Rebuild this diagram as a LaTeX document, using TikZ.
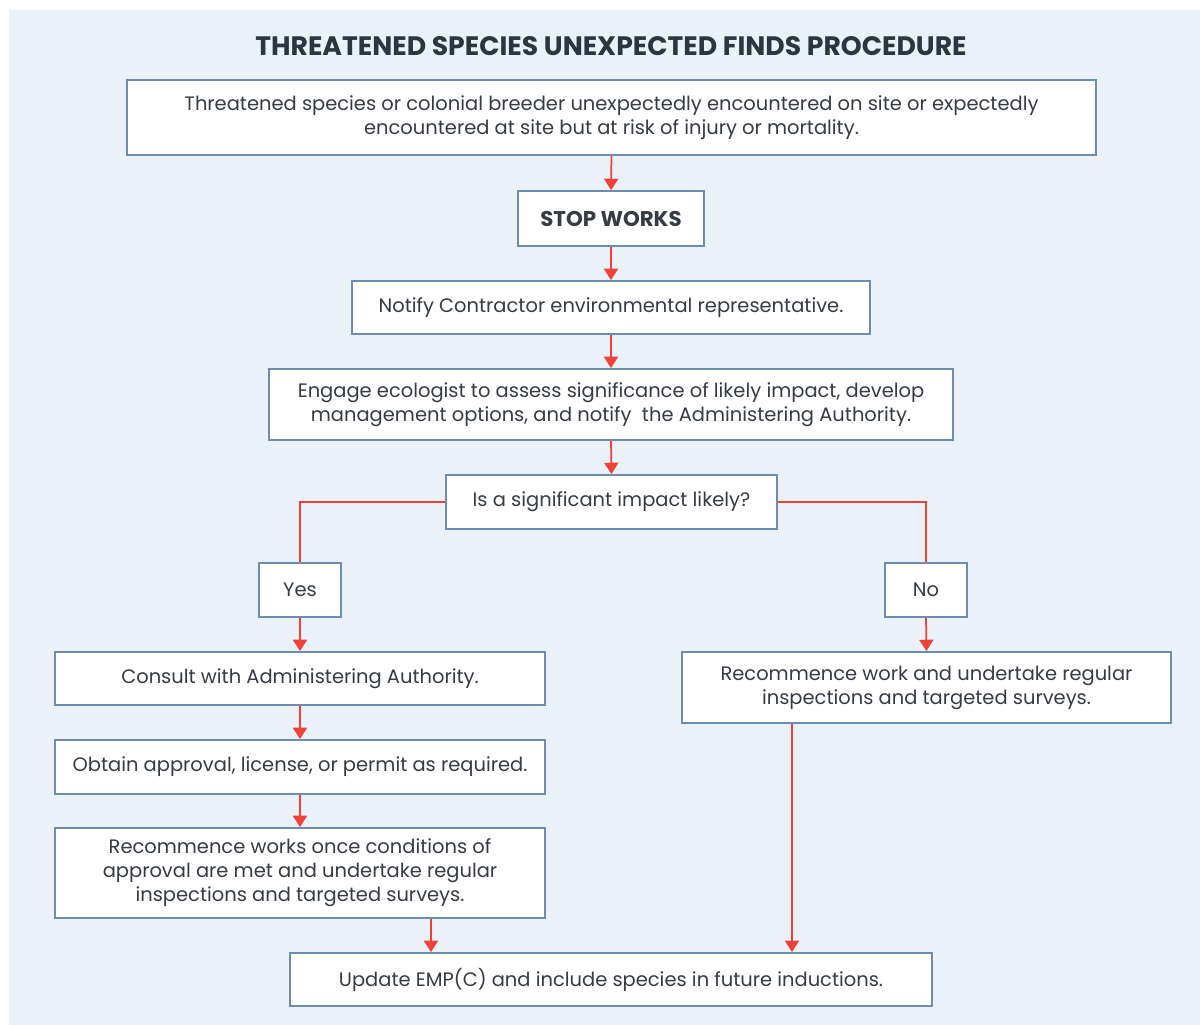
\documentclass[tikz,border=0pt]{standalone}
\usepackage{fontspec}
\setmainfont{Poppins}
\usetikzlibrary{arrows.meta}
\definecolor{bgblue}{HTML}{EAF1F8}
\definecolor{boxline}{HTML}{6E8DAD}
\definecolor{arrred}{HTML}{EF4138}
\definecolor{txt}{HTML}{363C42}
\definecolor{titlec}{HTML}{2B3640}
\begin{document}
\begin{tikzpicture}[x=0.75pt,y=-0.75pt,
  bx/.style n args={2}{draw=boxline, line width=1.4pt, fill=white, text=txt,
    minimum width=#1*0.75pt, minimum height=#2*0.75pt, inner sep=0pt,
    align=center, font=\fontsize{14.6}{18}\selectfont},
  arr/.style={draw=arrred, line width=1.3pt, -{Triangle[width=10.5pt,length=8.5pt]}},
  lin/.style={draw=arrred, line width=1.3pt}]
\useasboundingbox (0,0) rectangle (1200,1025);
\fill[bgblue] (9,10) rectangle (1200,1025);
\node[text=titlec, font=\fontsize{20}{22}\selectfont\bfseries] (title) at (611,46) {THREATENED SPECIES UNEXPECTED FINDS PROCEDURE};
\node[bx={969}{75}] (top) at (611.5,117.5) {Threatened species or colonial breeder unexpectedly encountered on site or expectedly\\encountered at site but at risk of injury or mortality.};
\node[bx={186}{55}, font=\fontsize{16}{18}\selectfont\bfseries] (stop) at (611,218.5) {STOP WORKS};
\node[bx={518}{53}] (notify) at (611,307.5) {Notify Contractor environmental representative.};
\node[bx={684}{71}] (engage) at (611,404.5) {Engage ecologist to assess significance of likely impact, develop\\management options, and notify\ \ the Administering Authority.};
\node[bx={331}{54}] (sig) at (611.5,502) {Is a significant impact likely?};
\node[bx={82}{54}] (yes) at (300,590) {Yes};
\node[bx={82}{54}] (no) at (926,590) {No};
\node[bx={490}{53}] (consult) at (300,678.5) {Consult with Administering Authority.};
\node[bx={490}{54}] (obtain) at (300,767) {Obtain approval, license, or permit as required.};
\node[bx={490}{90}] (rec1) at (300,873) {Recommence works once conditions of\\approval are met and undertake regular\\inspections and targeted surveys.};
\node[bx={489}{71}] (rec2) at (926.5,687.5) {Recommence work and undertake regular\\inspections and targeted surveys.};
\node[bx={642}{53}] (update) at (611,979.5) {Update EMP(C) and include species in future inductions.};
\draw[arr] (top.south) -- (stop.north);
\draw[arr] (stop.south) -- (notify.north);
\draw[arr] (notify.south) -- (engage.north);
\draw[arr] (engage.south) -- (sig.north);
\draw[lin] (sig.west) -| (yes.north);
\draw[lin] (sig.east) -| (no.north);
\draw[arr] (yes.south) -- (consult.north);
\draw[arr] (no.south) -- (rec2.north);
\draw[arr] (consult.south) -- (obtain.north);
\draw[arr] (obtain.south) -- (rec1.north);
\draw[arr] (rec1.south) ++(131,0) coordinate (t1) -- (t1 |- update.north);
\draw[arr] (rec2.south) ++(-134.5,0) coordinate (t2) -- (t2 |- update.north);
\end{tikzpicture}
\end{document}
